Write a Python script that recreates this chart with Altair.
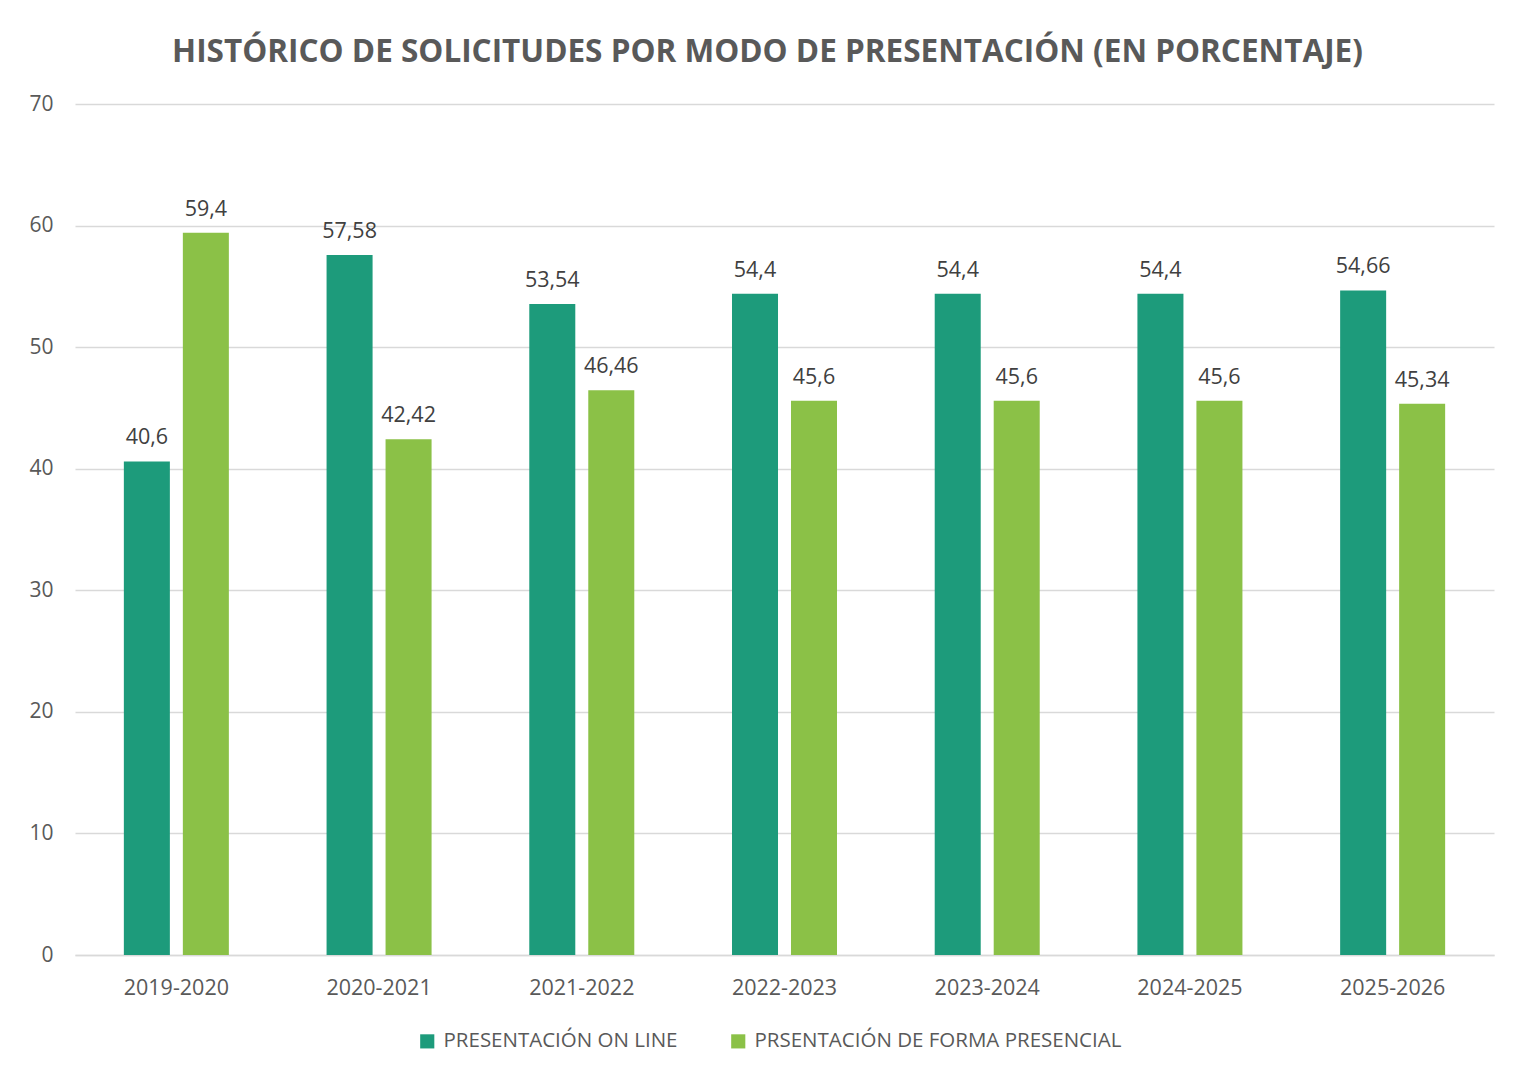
import altair as alt
import pandas as pd

years = ["2019-2020", "2020-2021", "2021-2022", "2022-2023", "2023-2024", "2024-2025", "2025-2026"]
series = ["PRESENTACIÓN ON LINE", "PRSENTACIÓN DE FORMA PRESENCIAL"]
online = [40.6, 57.58, 53.54, 54.4, 54.4, 54.4, 54.66]
presencial = [59.4, 42.42, 46.46, 45.6, 45.6, 45.6, 45.34]
colors = ["#1D9B7B", "#8BC147"]
y_ticks = [0, 10, 20, 30, 40, 50, 60, 70]

rows = []
for i, y in enumerate(years):
    for s, vals in zip(series, [online, presencial]):
        v = vals[i]
        rows.append({"curso": y, "serie": s, "valor": v,
                     "etiqueta": (f"{v:g}").replace(".", ",")})
df = pd.DataFrame(rows)

FONT = "Open Sans"
GRAY = "#595959"

x = alt.X("curso:N", sort=years, title=None,
          scale=alt.Scale(paddingInner=0.482, paddingOuter=0.241),
          axis=alt.Axis(labelAngle=0, labelFont=FONT, labelFontSize=21.5, labelColor=GRAY,
                        labelPadding=22, ticks=False, domain=True, domainColor="#D9D9D9",
                        domainWidth=1.5, grid=False))
xo = alt.XOffset("serie:N", sort=series,
                 scale=alt.Scale(paddingInner=0.22, paddingOuter=0))
y = alt.Y("valor:Q", title=None,
          scale=alt.Scale(domain=[0, 70], nice=False),
          axis=alt.Axis(values=y_ticks, labelFont=FONT, labelFontSize=21, labelColor=GRAY,
                        labelPadding=22, ticks=False, domain=False, gridColor="#D9D9D9",
                        gridWidth=1.5))
color = alt.Color("serie:N", sort=series,
                  scale=alt.Scale(domain=series, range=colors),
                  legend=alt.Legend(title=None, orient="none", direction="horizontal",
                                    legendX=342, legendY=927,
                                    symbolType="square", symbolSize=200, symbolStrokeWidth=0,
                                    labelFont=FONT, labelFontSize=20.5, labelColor=GRAY,
                                    labelLimit=0, labelOffset=6, columnPadding=50))

base = alt.Chart(df)
bars = base.mark_bar().encode(x=x, xOffset=xo, y=y, color=color)
labels = base.mark_text(baseline="middle", dy=-23, font=FONT, fontSize=21.5, color="#404040").encode(
    x=x, xOffset=xo, y=y, text="etiqueta:N")

chart = (bars + labels).properties(
    width=1419, height=851,
    background="white",
    padding={"left": 20, "top": 28, "right": 10, "bottom": 5},
    title=alt.Title("HISTÓRICO DE SOLICITUDES POR MODO DE PRESENTACIÓN (EN PORCENTAJE)",
                    font=FONT, fontSize=31.5, fontWeight="bold", color=GRAY,
                    anchor="middle", offset=25, dx=-17),
).configure_view(strokeWidth=0, stroke="transparent")

chart.save("out.html", embed_options={"renderer": "svg", "actions": False})
